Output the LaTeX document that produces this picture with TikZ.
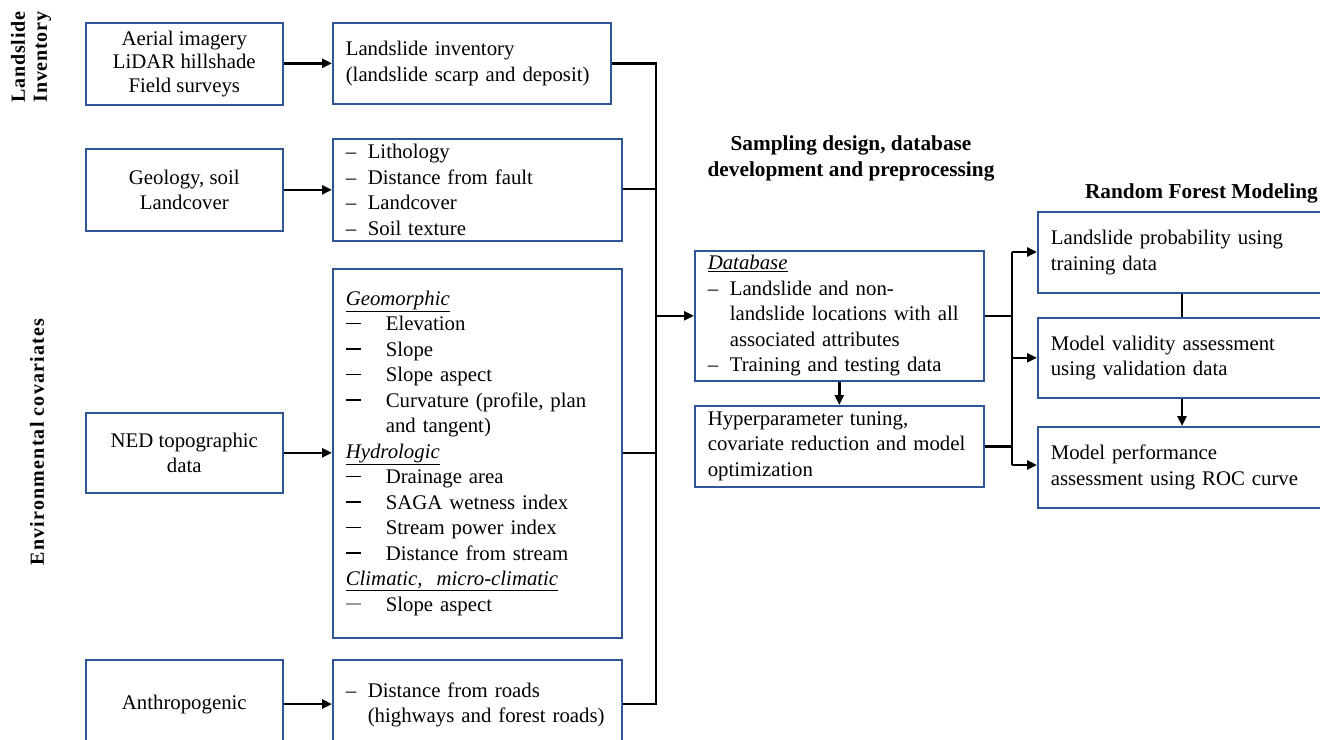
\documentclass[tikz,border=0pt]{standalone}
\usepackage{fontspec}
\setmainfont{Liberation Serif}
\usetikzlibrary{arrows.meta,calc}
\definecolor{boxblue}{HTML}{2F5597}
\definecolor{dashgray}{HTML}{9A9A9A}
\newcommand{\ul}[1]{\underline{#1}}
\newcommand{\gdash}[1][black]{\makebox[40pt][l]{\textcolor{#1}{\raisebox{6.5pt}{\rule{15pt}{1.6pt}}}}}
\begin{document}
\begin{tikzpicture}[x=1pt,y=-1pt,
  box/.style={draw=boxblue,line width=1.6pt,rectangle,anchor=north west,inner xsep=13pt,inner ysep=0pt,font=\fontsize{20.8}{25.5}\selectfont},
  cbox/.style={box,align=center},
  lbox/.style={box,align=left},
  conn/.style={line width=2.6pt,black},
  arr/.style={conn,-{Triangle[length=10pt,width=9pt]}},
  head/.style={font=\fontsize{21.3}{26}\selectfont\bfseries,align=center}]
\useasboundingbox (0,0) rectangle (1320,739);
\fill[white] (0,0) rectangle (1320,739);

% side labels
\node[head,rotate=90,font=\fontsize{20}{22}\selectfont\bfseries\addfontfeature{LetterSpace=4}] (lab1) at (31,57) {Landslide\\Inventory};
\node[head,rotate=90,font=\fontsize{20}{22}\selectfont\bfseries\addfontfeature{LetterSpace=6}] (lab2) at (37,442) {Environmental covariates};

% column headings
\node[head] (h1) at (851,158) {Sampling design, database\\development and preprocessing};
\node[head,anchor=east,inner xsep=0pt] (h2) at (1318,193) {Random Forest Modeling};

% left column
\node[cbox,minimum width=197pt,minimum height=82pt,font=\fontsize{20.8}{23.5}\selectfont] (aer) at (85,22) {Aerial imagery\\LiDAR hillshade\\Field surveys};
\node[cbox,minimum width=197pt,minimum height=82pt] (geo) at (85,148) {Geology, soil\\Landcover};
\node[cbox,minimum width=197pt,minimum height=80pt] (ned) at (85,412) {NED topographic\\data};
\node[cbox,minimum width=197pt,minimum height=90pt] (anth) at (85,659) {Anthropogenic};

% second column
\node[lbox,minimum width=278pt,minimum height=81pt,text width=252pt] (li) at (332,22) {Landslide inventory\\(landslide scarp and deposit)};
\node[lbox,minimum width=289pt,minimum height=102pt,text width=263pt] (lith) at (332,138) {%
\makebox[22pt][l]{–}Lithology\\
\makebox[22pt][l]{–}Distance from fault\\
\makebox[22pt][l]{–}Landcover\\
\makebox[22pt][l]{–}Soil texture};
\node[lbox,minimum width=289pt,minimum height=369pt,text width=263pt] (geom) at (332,268) {%
\ul{\itshape Geomorphic}\\
\gdash Elevation\\
\gdash Slope\\
\gdash Slope aspect\\
\gdash Curvature (profile, plan\\
\hspace*{40pt}and tangent)\\
\ul{\itshape Hydrologic}\\
\gdash Drainage area\\
\gdash SAGA wetness index\\
\gdash Stream power index\\
\gdash Distance from stream\\
\ul{\itshape Climatic,\ \ micro-climatic}\\
\gdash[dashgray]Slope aspect\\[2pt]};
\node[lbox,minimum width=289pt,minimum height=90pt,text width=263pt] (roads) at (332,659) {%
\makebox[22pt][l]{–}Distance from roads\\
\hspace*{22pt}(highways and forest roads)\\[2pt]};

% third column
\node[lbox,minimum width=289pt,minimum height=130pt,text width=263pt] (db) at (694,250) {%
\ul{\itshape Database}\\
\makebox[22pt][l]{–}Landslide and non-\\
\hspace*{22pt}landslide locations with all\\
\hspace*{22pt}associated attributes\\
\makebox[22pt][l]{–}Training and testing data};
\node[lbox,minimum width=289pt,minimum height=81pt,text width=263pt] (hyp) at (694,405) {Hyperparameter tuning,\\covariate reduction and model\\optimization};

% fourth column
\node[lbox,minimum width=310pt,minimum height=81pt,text width=284pt] (rf1) at (1037,211) {Landslide probability using\\training data};
\node[lbox,minimum width=310pt,minimum height=80pt,text width=284pt] (rf2) at (1037,317) {Model validity assessment\\using validation data};
\node[lbox,minimum width=310pt,minimum height=81pt,text width=284pt] (rf3) at (1037,426) {Model performance\\assessment using ROC curve};

% coordinates for buses
\coordinate (busA) at (656,0);
\coordinate (busB) at (1012,0);
\coordinate (xr) at (1182,0);

% arrows left -> middle
\draw[arr] (aer.east |- li.west) -- (li.west);
\draw[arr] (geo.east) -- (geo.east -| lith.west);
\draw[arr] (ned.east) -- (ned.east -| geom.west);
\draw[arr] (anth.east |- 0,704) -- (roads.west |- 0,704);

% bus 1
\draw[conn] (li.east) -- (li.east -| busA) -- (busA |- 0,704) -- (roads.east |- 0,704);
\draw[conn] (lith.east |- 0,189) -- (busA |- 0,189);
\draw[conn] (geom.east |- 0,453) -- (busA |- 0,453);
\draw[arr] (busA |- db.west) -- (db.west);

% database -> hyper
\draw[arr] (db.south) -- (hyp.north);

% bus 2
\draw[conn] (db.east) -- (db.east -| busB);
\draw[conn] (hyp.east) -- (hyp.east -| busB);
\draw[conn] (busB |- 0,252) -- (busB |- 0,465);
\draw[arr] (busB |- 0,252) -- (rf1.west |- 0,252);
\draw[arr] (busB |- rf2.west) -- (rf2.west);
\draw[arr] (busB |- 0,465) -- (rf3.west |- 0,465);

% right column links
\draw[conn] (rf1.south -| xr) -- (rf2.north -| xr);
\draw[arr] (rf2.south -| xr) -- (rf3.north -| xr);
\end{tikzpicture}
\end{document}
